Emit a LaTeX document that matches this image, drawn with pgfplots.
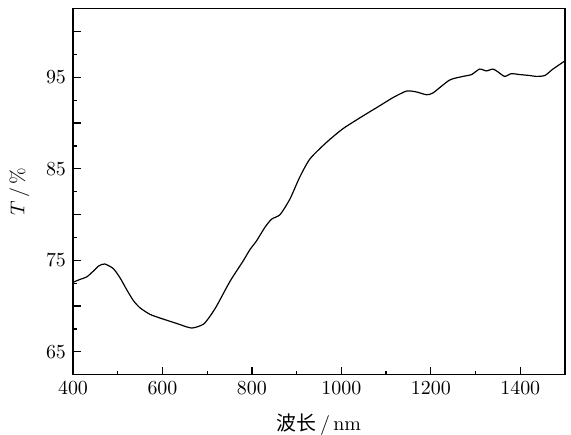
\documentclass[border=0pt]{standalone}
\usepackage{fontspec}
\usepackage{pgfplots}
\pgfplotsset{compat=1.18}
\newfontfamily\cjk{Noto Sans CJK SC}

\begin{document}
\begin{tikzpicture}
\begin{axis}[
    name=ax,
    scale only axis,
    width=246bp,
    height=183bp,
    xmin=400, xmax=1500,
    ymin=62.5, ymax=102.5,
    xtick={400,600,...,1400},
    minor xtick={500,700,...,1300},
    ytick={65,70,...,100},
    yticklabels={65,,75,,85,,95,},
    minor ytick={67.5,72.5,...,97.5},
    xtick pos=bottom,
    ytick pos=left,
    tick align=inside,
    major tick length=3.8bp,
    minor tick length=2bp,
    axis line style={line width=0.75pt},
    every tick/.style={black, line width=0.6pt},
    xticklabel style={/pgf/number format/1000 sep={}},
    xlabel={{\cjk 波长}\,/\,nm},
    ylabel={$T$\,/\,\%},
    xlabel style={yshift=-2.5pt},
    ylabel style={yshift=1.5pt},
]
\addplot[black, line width=0.6pt, smooth, tension=0.4] coordinates {
    (400,72.6) (415,72.9) (431,73.2) (445,73.8) (458,74.4) (471,74.6) (490,74.1)
    (505,73.1) (520,71.8) (535,70.6) (550,69.8) (572,69.1) (594,68.7) (632,68.1) (665,67.6)
    (691,68.0) (705,68.8) (721,70.0) (751,72.7) (780,74.9) (796,76.2)
    (810,77.1) (829,78.6) (844,79.5) (863,80.0) (885,81.7) (907,84.1)
    (930,86.1) (967,87.9) (1004,89.4) (1049,90.8) (1086,91.9) (1116,92.8)
    (1146,93.5) (1168,93.4) (1190,93.1) (1205,93.3) (1242,94.7) (1272,95.1)
    (1291,95.3) (1309,95.9) (1324,95.7) (1339,95.9) (1350,95.6) (1365,95.1)
    (1380,95.4) (1399,95.3) (1421,95.2) (1436,95.1) (1455,95.2) (1473,95.9)
    (1500,96.8)
};
\end{axis}
\pgfresetboundingbox
\path[use as bounding box] ([xshift=-36.5bp,yshift=-29.85bp]ax.south west)
    rectangle ([xshift=3bp,yshift=4.35bp]ax.north east);
\end{tikzpicture}
\end{document}
